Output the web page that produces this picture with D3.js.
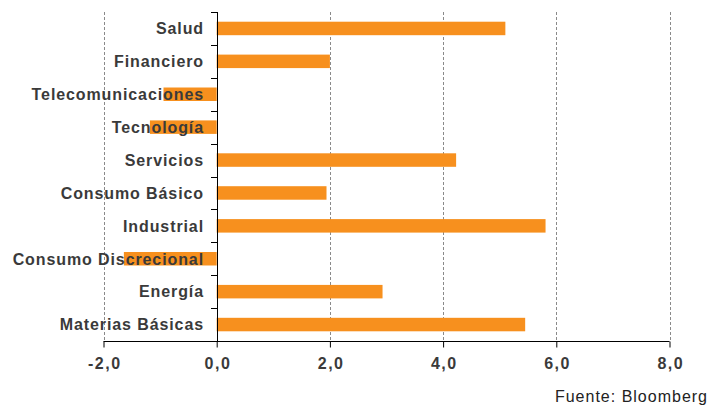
<!DOCTYPE html>
<html>
<head>
<meta charset="utf-8">
<script src="https://cdn.jsdelivr.net/npm/d3@7"></script>
<style>
body{margin:0;background:#fff;}
svg{display:block;}
</style>
</head>
<body>
<svg id="svg" width="717" height="407"></svg>
<script>
// sectores, de arriba hacia abajo
const sectores = ['Salud','Financiero','Telecomunicaciones','Tecnología','Servicios','Consumo Básico','Industrial','Consumo Discrecional','Energía','Materias Básicas'];
const valores = [5.1, 2.0, -0.94, -1.18, 4.23, 1.94, 5.81, -1.64, 2.93, 5.45];
const ticksX = [-2, 0, 2, 4, 6, 8];
const fuente = 'Fuente: Bloomberg';

const svg = d3.select('#svg');
const fontFam = '"Liberation Sans", Arial, sans-serif';

const xScale = d3.scaleLinear()
    .domain([-2, 8])
    .range([103.5, 669.5]);

const yScale = d3.scaleBand()
    .domain(sectores)
    .range([12, 341])
    .paddingInner(0.59)
    .paddingOuter(0.295);

const x0 = xScale(0);

// grid vertical punteada
svg.append('g').selectAll('line')
    .data(ticksX.filter(d => d !== 0))
    .enter()
    .append('line')
    .attr('x1', d => Math.round(xScale(d)) + 0.5)
    .attr('x2', d => Math.round(xScale(d)) + 0.5)
    .attr('y1', 12)
    .attr('y2', 341)
    .attr('stroke', '#8a8a8a')
    .attr('stroke-dasharray', '3,2');

// barras
svg.append('g').selectAll('rect')
    .data(valores)
    .enter()
    .append('rect')
    .attr('x', d => xScale(Math.min(0, d)))
    .attr('y', (d, i) => yScale(sectores[i]))
    .attr('width', d => Math.abs(xScale(d) - x0))
    .attr('height', yScale.bandwidth())
    .attr('fill', '#f7901e');

// eje x
const xAxis = d3.axisBottom(xScale)
    .tickValues(ticksX)
    .tickSize(6)
    .tickFormat(d => d3.format('.1f')(d).replace('.', ',').replace('−', '-'));
const gx = svg.append('g')
    .attr('transform', 'translate(0,341.5)')
    .call(xAxis);
gx.select('.domain').attr('stroke', '#000').attr('d', `M${xScale(-2)},0H${xScale(8)}`);
gx.selectAll('.tick line').attr('stroke', '#000');
gx.selectAll('.tick text')
    .attr('y', 16)
    .attr('dx', 0.75)
    .attr('fill', '#3a3a3a')
    .style('font-family', fontFam)
    .style('font-size', '16px')
    .style('font-weight', 'bold')
    .style('letter-spacing', '1.5px');

// eje y (linea en cero con marcas entre categorias)
const gy = svg.append('g');
gy.append('line')
    .attr('x1', Math.round(x0) + 0.5).attr('x2', Math.round(x0) + 0.5)
    .attr('y1', 12).attr('y2', 341.5)
    .attr('stroke', '#000');
gy.selectAll('.ytick')
    .data(d3.range(sectores.length))
    .enter()
    .append('line')
    .attr('class', 'ytick')
    .attr('x1', Math.round(x0) - 6).attr('x2', Math.round(x0) + 0.5)
    .attr('y1', i => Math.round(12 + i * 329 / sectores.length) + 0.5)
    .attr('y2', i => Math.round(12 + i * 329 / sectores.length) + 0.5)
    .attr('stroke', '#000');

// etiquetas de categorias
svg.append('g').selectAll('text')
    .data(sectores)
    .enter()
    .append('text')
    .attr('x', 204)
    .attr('y', d => yScale(d) + yScale.bandwidth() / 2)
    .attr('dy', '0.36em')
    .attr('text-anchor', 'end')
    .attr('fill', '#3a3a3a')
    .style('font-family', fontFam)
    .style('font-size', '16px')
    .style('font-weight', 'bold')
    .style('letter-spacing', '0.9px')
    .text(d => d);

svg.append('text')
    .attr('x', 708)
    .attr('y', 402)
    .attr('text-anchor', 'end')
    .attr('fill', '#222')
    .style('font-family', fontFam)
    .style('font-size', '16px')
    .style('letter-spacing', '1px')
    .text(fuente);
</script>
</body>
</html>
